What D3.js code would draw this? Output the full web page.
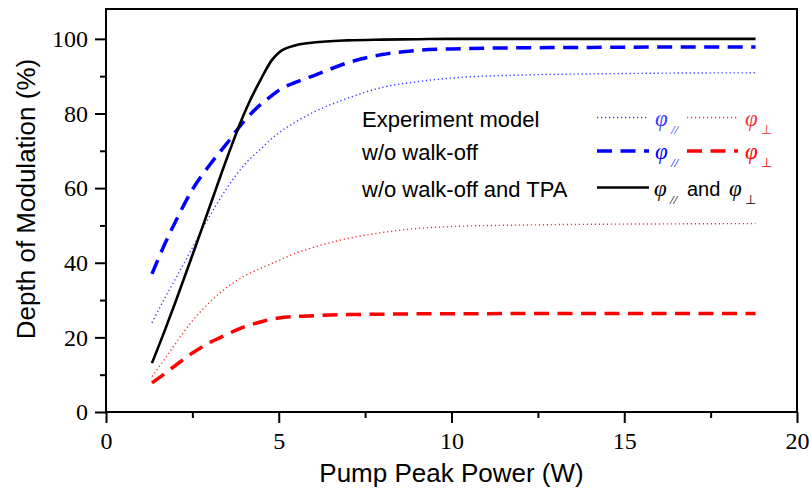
<!DOCTYPE html>
<html>
<head>
<meta charset="utf-8">
<script src="https://cdn.jsdelivr.net/npm/d3@7/dist/d3.min.js"></script>
<style>
  body { margin: 0; background: #fff; }
  svg { display: block; }
</style>
</head>
<body>
<svg></svg>
<script>
// pump peak power (W), shared by all curves
var power = [1.33, 1.7, 2.0, 2.5, 3.0, 3.5, 4.0, 4.5, 4.8, 5.0, 5.5, 6, 7, 8, 9, 10, 12, 14, 16, 18.8];

// depth of modulation (%)
var noWalkoffTpa = [13.1, 21.8, 29.2, 42, 55, 68, 80, 89.5, 94.3, 96.3, 98.3, 99.0, 99.6, 99.8, 99.9, 100, 100, 100, 100, 100];
var noWalkoffPar = [37, 45, 50.8, 59.6, 66.2, 72, 78, 82.6, 84.8, 86.2, 88.4, 90.1, 93.6, 95.8, 96.9, 97.3, 97.6, 97.7, 97.8, 97.8];
var noWalkoffPerp = [7.8, 10.3, 12.4, 15.8, 18.6, 20.8, 22.8, 24.2, 24.9, 25.2, 25.6, 25.8, 26.1, 26.2, 26.3, 26.3, 26.4, 26.4, 26.4, 26.4];
var experimentPar = [23.9, 30.5, 35.5, 44, 52.5, 60, 66.2, 70.7, 73.3, 74.8, 77.8, 80.3, 84.1, 87, 88.5, 89.5, 90.3, 90.6, 90.8, 90.9];
var experimentPerp = [9.5, 14.2, 18.2, 24.4, 29.4, 33.4, 36.4, 38.6, 39.8, 40.6, 42.6, 44.1, 46.5, 48.1, 49.2, 49.7, 50.1, 50.3, 50.4, 50.5];

var xTicks = [0, 5, 10, 15, 20];
var yTicks = [0, 20, 40, 60, 80, 100];

var w = 809, h = 489;
var margin = {top: 9, right: 12, bottom: 77, left: 106};
var iw = w - margin.left - margin.right,
    ih = h - margin.top - margin.bottom;

var svg = d3.select("svg").attr("width", w).attr("height", h);
var g = svg.append("g").attr("transform", "translate(" + margin.left + "," + margin.top + ")");

var x = d3.scaleLinear().domain([0, 20]).range([0, iw]);
var y = d3.scaleLinear().domain([0, 108]).range([ih, 0]);

var serif = "'Liberation Serif', 'Times New Roman', serif";
var sans = "'Liberation Sans', Arial, sans-serif";

// minor ticks
g.append("g")
    .attr("transform", "translate(0," + ih + ")")
    .call(d3.axisBottom(x).tickValues(d3.range(2.5, 20, 5)).tickSize(6).tickFormat(""))
    .call(a => a.select(".domain").remove());
g.append("g")
    .call(d3.axisLeft(y).tickValues(d3.range(10, 108, 20)).tickSize(6).tickFormat(""))
    .call(a => a.select(".domain").remove());

// major ticks
var xAxis = g.append("g")
    .attr("transform", "translate(0," + ih + ")")
    .call(d3.axisBottom(x).tickValues(xTicks).tickSize(11).tickPadding(9).tickFormat(d3.format("d")));
xAxis.select(".domain").remove();
var yAxis = g.append("g")
    .call(d3.axisLeft(y).tickValues(yTicks).tickSize(11).tickPadding(7).tickFormat(d3.format("d")));
yAxis.select(".domain").remove();

g.selectAll(".tick line").attr("stroke", "#000").attr("stroke-width", 2);
g.selectAll(".tick text")
    .attr("font-family", serif)
    .attr("font-size", 24)
    .attr("fill", "#000");

// frame
g.append("rect")
    .attr("x", 0).attr("y", 0)
    .attr("width", iw).attr("height", ih)
    .attr("fill", "none")
    .attr("stroke", "#000")
    .attr("stroke-width", 2);

// axis titles
svg.append("text")
    .attr("x", margin.left + iw / 2)
    .attr("y", 482)
    .attr("text-anchor", "middle")
    .attr("font-family", sans)
    .attr("font-size", 26)
    .text("Pump Peak Power (W)");
svg.append("text")
    .attr("transform", "translate(35," + 199 + ") rotate(-90)")
    .attr("text-anchor", "middle")
    .attr("font-family", sans)
    .attr("font-size", 26)
    .text("Depth of Modulation (%)");

// curves
var series = [
    {values: experimentPar, color: "#3a3aff", width: 1.4, dash: "1.3,2.7"},
    {values: experimentPerp, color: "#ee3a3a", width: 1.4, dash: "1.3,2.7"},
    {values: noWalkoffPar, color: "#0000ff", width: 3.5, dash: "15,8.5"},
    {values: noWalkoffPerp, color: "#ff0000", width: 3.5, dash: "15,8.5"},
    {values: noWalkoffTpa, color: "#000", width: 2.6, dash: null}
];

var line = d3.line()
    .x(d => x(d[0]))
    .y(d => y(d[1]))
    .curve(d3.curveMonotoneX);

g.selectAll(".curve")
    .data(series)
    .enter().append("path")
    .attr("class", "curve")
    .attr("d", s => line(power.map((p, i) => [p, s.values[i]])))
    .attr("fill", "none")
    .attr("stroke", s => s.color)
    .attr("stroke-width", s => s.width)
    .attr("stroke-dasharray", s => s.dash);

// legend
var legend = svg.append("g");
var rows = [
    {label: "Experiment model", y: 126.5, a: series[0], b: series[1]},
    {label: "w/o walk-off", y: 160, a: series[2], b: series[3]},
    {label: "w/o walk-off and TPA", y: 196.5, a: series[4], b: null}
];

function phi(x0, base, color, sub) {
    legend.append("text")
        .attr("x", x0).attr("y", base)
        .attr("font-family", serif)
        .attr("font-style", "italic")
        .attr("font-size", 23)
        .attr("fill", color)
        .text("\u03C6");
    legend.append("text")
        .attr("x", x0 + 16).attr("y", base + 8)
        .attr("font-family", serif)
        .attr("font-style", sub == "//" ? "italic" : "normal")
        .attr("font-size", 13)
        .attr("fill", color)
        .text(sub);
}

rows.forEach(r => {
    legend.append("text")
        .attr("x", 362).attr("y", r.y)
        .attr("font-family", sans)
        .attr("font-size", 22)
        .text(r.label);
    var ly = r.y - 9;
    legend.append("line")
        .attr("x1", 597).attr("x2", 649)
        .attr("y1", ly).attr("y2", ly)
        .attr("stroke", r.a.color)
        .attr("stroke-width", r.a.width)
        .attr("stroke-dasharray", r.a.dash);
    if (r.b) {
        phi(655, r.y - 1, r.a.color, "//");
        legend.append("line")
            .attr("x1", 687).attr("x2", 738)
            .attr("y1", ly).attr("y2", ly)
            .attr("stroke", r.b.color)
            .attr("stroke-width", r.b.width)
            .attr("stroke-dasharray", r.b.dash);
        phi(745, r.y - 1, r.b.color, "\u22A5");
    } else {
        phi(654, r.y - 1, "#000", "//");
        legend.append("text")
            .attr("x", 687).attr("y", r.y - 1)
            .attr("font-family", sans)
            .attr("font-size", 20)
            .text("and");
        phi(729, r.y - 1, "#000", "\u22A5");
    }
});
</script>
</body>
</html>
